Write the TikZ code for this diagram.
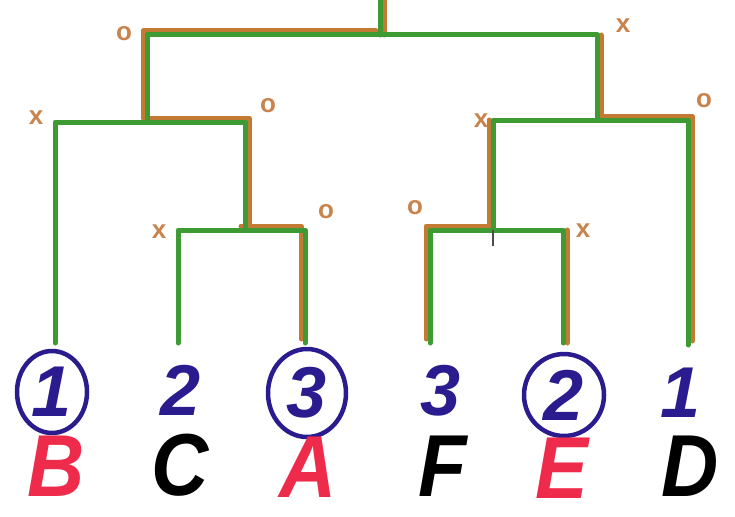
\documentclass[tikz,border=0pt]{standalone}
\usepackage{fontspec}
\setmainfont{Liberation Sans}
\usetikzlibrary{calc,shapes.geometric}
\definecolor{gr}{HTML}{3E9A32}
\definecolor{brn}{HTML}{C27A34}
\definecolor{lab}{HTML}{C8844C}
\definecolor{navy}{HTML}{2A1C8E}
\definecolor{rd}{HTML}{EE2B4A}
\tikzset{
  g/.style={draw=gr,line width=5pt,line cap=round,line join=round},
  br/.style={draw=brn,line width=5pt,line cap=round,line join=round},
  mk/.style={text=lab,font=\fontsize{26}{26}\selectfont\bfseries,inner sep=0pt},
  num/.style={text=navy,font=\fontsize{72}{72}\selectfont\bfseries\itshape,inner sep=0pt},
  ring/.style={draw=navy,line width=4.5pt,ellipse},
  let/.style={font=\fontsize{88}{88}\selectfont\bfseries\itshape,inner sep=0pt,xscale=0.9},
}
\begin{document}
\begin{tikzpicture}[x=1pt,y=-1pt]
\useasboundingbox (0,0) rectangle (735,516);
% junctions
\coordinate (root) at (380,0);
\coordinate (r) at (380,35);
\coordinate (Lj) at (147,122);
\coordinate (LRj) at (245,230);
\coordinate (Rj) at (597,120);
\coordinate (RLj) at (493,230);
\coordinate (Bl) at (55,343);
\coordinate (Cl) at (178,343);
\coordinate (Al) at (305,343);
\coordinate (Fl) at (430,343);
\coordinate (El) at (563,343);
\coordinate (Dl) at (688,345);
% brown overlays
\draw[br,transform canvas={xshift=4pt}] (root) -- (r);
\draw[br,transform canvas={xshift=-4pt,yshift=4pt}] (r) -| (Lj);
\draw[br,transform canvas={xshift=4pt,yshift=4pt}] (Lj) -| (LRj);
\draw[br,transform canvas={xshift=-4pt,yshift=4pt}] (LRj) -| (Al);
\draw[br,transform canvas={xshift=4pt}] (r -| Rj) -- (Rj);
\draw[br,transform canvas={xshift=4pt,yshift=4pt}] (Rj) -| (Dl);
\draw[br,transform canvas={xshift=-4pt}] (RLj |- Rj) -- (RLj);
\draw[br,transform canvas={xshift=-4pt,yshift=4pt}] (RLj) -| (Fl);
\draw[br,transform canvas={xshift=4pt}] (El |- RLj) -- (El);
% green tree
\draw[g] (root) -- (r);
\draw[g] (r) -| (Lj);
\draw[g] (r) -| (Rj);
\draw[g] (Lj) -| (Bl);
\draw[g] (Lj) -| (LRj);
\draw[g] (LRj) -| (Cl);
\draw[g] (LRj) -| (Al);
\draw[g] (Rj) -| (RLj);
\draw[g] (Rj) -| (Dl);
\draw[g] (RLj) -| (Fl);
\draw[g] (RLj) -| (El);
\coordinate (tk) at (493,246);
\draw[draw=black!70,line width=1.5pt] (RLj) -- (tk);
% markers
\node[mk] (m1) at (124,34) {o};
\node[mk] (m2) at (36,118) {x};
\node[mk] (m3) at (268,106) {o};
\node[mk] (m4) at (326,212) {o};
\node[mk] (m5) at (159,232) {x};
\node[mk] (m6) at (623,26) {x};
\node[mk] (m7) at (704,101) {o};
\node[mk] (m8) at (481,121) {x};
\node[mk] (m9) at (415,208) {o};
\node[mk] (m10) at (583,231) {x};
% numbers
\node[ring,minimum width=70pt,minimum height=82pt] (c1) at (52,392) {};
\node[num] (n1) at (52,392) {1};
\node[num] (n2) at (181,390) {2};
\node[ring,minimum width=78pt,minimum height=88pt] (c3) at (307,393) {};
\node[num] (n3) at (307,393) {3};
\node[num] (n4) at (441,391) {3};
\node[ring,minimum width=80pt,minimum height=82pt] (c5) at (564,395) {};
\node[num] (n5) at (564,395) {2};
\node[num] (n6) at (681,393) {1};
% letters
\node[let,text=rd] (B) at (56,466) {B};
\node[let,text=black] (C) at (180,465) {C};
\node[let,text=rd] (A) at (308,467) {A};
\node[let,text=black] (F) at (443,466) {F};
\node[let,text=rd] (E) at (562,468) {E};
\node[let,text=black] (D) at (690,466) {D};
\end{tikzpicture}
\end{document}
